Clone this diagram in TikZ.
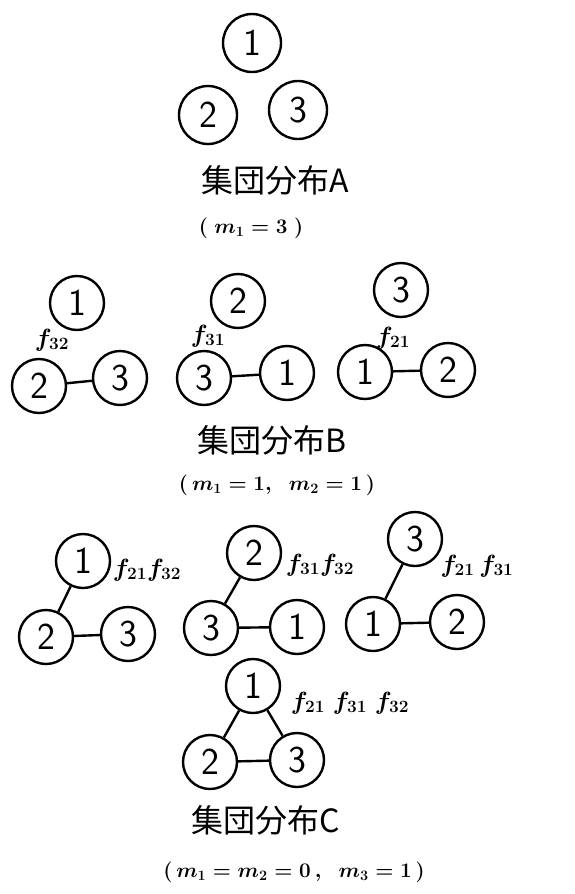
\documentclass[tikz,border=0pt]{standalone}
\usepackage{fontspec}
\newfontfamily\jpfont{Noto Sans CJK JP}
\begin{document}
\begin{tikzpicture}[x=1pt,y=-1pt,
  ball/.style={draw,circle,line width=2.4pt,minimum size=54pt,inner sep=0pt,
    font=\sffamily\fontsize{38}{38}\selectfont},
  bond/.style={line width=2.4pt},
  coef/.style={inner sep=0pt,font=\boldmath\fontsize{26}{26}\selectfont},
  title/.style={inner sep=0pt,font=\jpfont\fontsize{32}{32}\selectfont},
  cond/.style={inner sep=0pt,font=\boldmath\fontsize{21}{21}\selectfont}]
\useasboundingbox (0,0) rectangle (574,894);

% distribution A
\node[ball,minimum size=58pt] (a1) at (252,43) {1};
\node[ball,minimum size=58pt] (a2) at (208,115) {2};
\node[ball,minimum size=58pt] (a3) at (298,110) {3};
\node[title] (ta) at (275,180) {集団分布A};
\node[cond] (ca) at (251,228) {$(\;m_1=3\;)$};

% distribution B
\node[ball] (bl1) at (77,303) {1};
\node[ball] (bl2) at (39,386) {2};
\node[ball] (bl3) at (120,378) {3};
\draw[bond] (bl2) -- (bl3);
\node[coef] at (52,340) {$f_{32}$};

\node[ball] (bm2) at (238,301) {2};
\node[ball] (bm3) at (204,378) {3};
\node[ball] (bm1) at (287,373) {1};
\draw[bond] (bm3) -- (bm1);
\node[coef] at (208,336) {$f_{31}$};

\node[ball] (br3) at (401,290) {3};
\node[ball] (br1) at (365,372) {1};
\node[ball] (br2) at (448,370) {2};
\draw[bond] (br1) -- (br2);
\node[coef] at (393,338) {$f_{21}$};

\node[title] (tb) at (272,440) {集団分布B};
\node[cond] (cb) at (277,485) {$(\,m_1=1,\;\; m_2=1\,)$};

% distribution C
\node[ball] (cl1) at (83,561) {1};
\node[ball] (cl2) at (46,637) {2};
\node[ball] (cl3) at (128,634) {3};
\draw[bond] (cl1) -- (cl2);
\draw[bond] (cl2) -- (cl3);
\node[coef] at (147,570) {$f_{21}f_{32}$};

\node[ball] (cm2) at (254,553) {2};
\node[ball] (cm3) at (211,628) {3};
\node[ball] (cm1) at (297,627) {1};
\draw[bond] (cm2) -- (cm3);
\draw[bond] (cm3) -- (cm1);
\node[coef] at (320,565) {$f_{31}f_{32}$};

\node[ball] (cr3) at (415,539) {3};
\node[ball] (cr1) at (373,624) {1};
\node[ball] (cr2) at (457,622) {2};
\draw[bond] (cr3) -- (cr1);
\draw[bond] (cr1) -- (cr2);
\node[coef] at (477,566) {$f_{21}\,f_{31}$};

\node[ball] (cb1) at (253,686) {1};
\node[ball] (cb2) at (210,762) {2};
\node[ball] (cb3) at (297,760) {3};
\draw[bond] (cb1) -- (cb2);
\draw[bond] (cb1) -- (cb3);
\draw[bond] (cb2) -- (cb3);
\node[coef] at (350,703) {$f_{21}\;f_{31}\;f_{32}$};

\node[title] (tc) at (266,820) {集団分布C};
\node[cond] (cc) at (294,872) {$(\,m_1=m_2=0\,,\;\; m_3=1\,)$};
\end{tikzpicture}
\end{document}
